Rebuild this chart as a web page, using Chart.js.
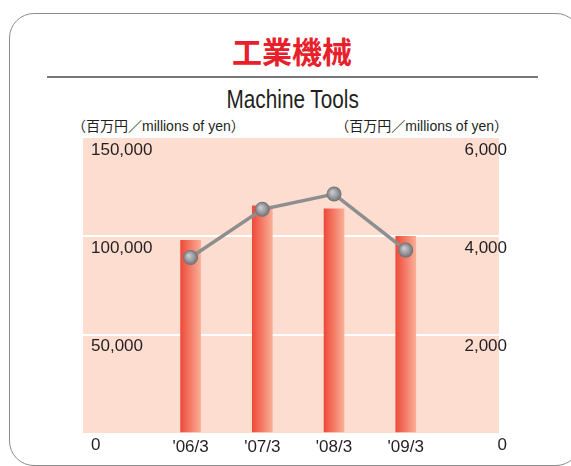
<!DOCTYPE html>
<html><head><meta charset="utf-8">
<script src="https://cdn.jsdelivr.net/npm/chart.js@4/dist/chart.umd.min.js"></script>
<style>
html,body{margin:0;padding:0;background:#fff;width:571px;height:466px;overflow:hidden;}
#wrap{position:relative;width:571px;height:466px;overflow:hidden;}
#frame{position:absolute;left:9px;top:13px;width:572px;height:453px;border:1px solid #8c8c8c;border-radius:25px;box-sizing:border-box;}
.t{position:absolute;white-space:nowrap;}
#title{left:0;width:584px;text-align:center;top:33px;height:34px;line-height:34px;font-weight:bold;font-size:30px;font-family:"Noto Sans CJK JP",sans-serif;color:#e8202b;}
#rule{position:absolute;left:47px;top:76px;width:491px;height:2px;background:#77787c;}
#sub{left:0;width:585px;text-align:center;top:85px;height:28px;line-height:28px;font-size:25px;font-family:"Liberation Sans",Arial,sans-serif;color:#231f20;}
#sub span{display:inline-block;transform:scaleX(0.83);transform-origin:50% 50%;}
.unit{top:118px;height:16px;line-height:16px;font-size:14px;font-family:"Liberation Sans","Noto Sans CJK JP",sans-serif;color:#231f20;}
#uL{left:72px;}
#uR{right:63px;}
canvas{position:absolute;left:0;top:0;}
</style></head>
<body><div id="wrap">
<div id="frame"></div>
<div class="t" id="title">工業機械</div>
<div id="rule"></div>
<div class="t" id="sub"><span>Machine Tools</span></div>
<div class="t unit" id="uL"></div>
<div class="t unit" id="uR"></div>
<canvas id="c" width="571" height="466"></canvas>
</div>
<script>
const categories = ["'06/3", "'07/3", "'08/3", "'09/3"];
const salesValues = [98000, 115500, 114000, 100000];      // bars, left axis
const profitValues = [3570, 4550, 4860, 3720];            // line, right axis
const leftTicks = [0, 50000, 100000, 150000];
const rightTicks = [0, 2000, 4000, 6000];
const unitLabel = "（百万円／millions of yen）";

document.getElementById('uL').textContent = unitLabel;
document.getElementById('uR').textContent = unitLabel;

const fmt = v => Number(v).toLocaleString('en-US');
const tickFont = {family: '"Liberation Sans", Arial, sans-serif', size: 17};

const bgPlugin = {
  id: 'bg',
  beforeDraw(chart) {
    const {ctx, chartArea: a} = chart;
    ctx.save();
    ctx.fillStyle = '#fcddd0';
    ctx.fillRect(a.left, a.top, a.right - a.left, a.bottom - a.top);
    ctx.restore();
  }
};

function barFill(c) {
  const chart = c.chart;
  if (!chart.chartArea || c.type !== 'data') return '#f27a62';
  const x = chart.scales.x.getPixelForValue(c.dataIndex);
  const g = chart.ctx.createLinearGradient(x - 10, 0, x + 10, 0);
  g.addColorStop(0, '#ee4a39');
  g.addColorStop(1, '#f9ae97');
  return g;
}
function pointFill(c) {
  const chart = c.chart;
  if (!chart.chartArea || c.type !== 'data') return '#96989b';
  const x = chart.scales.x.getPixelForValue(c.dataIndex);
  const y = chart.scales.y2.getPixelForValue(profitValues[c.dataIndex]);
  const g = chart.ctx.createRadialGradient(x - 2, y - 2, 0.5, x, y, 7.5);
  g.addColorStop(0, '#c9cbcd');
  g.addColorStop(0.55, '#9a9c9f');
  g.addColorStop(1, '#6c6e72');
  return g;
}

new Chart(document.getElementById('c'), {
  type: 'bar',
  data: {
    datasets: [
      {
        type: 'line',
        data: profitValues.map((v, i) => ({x: i, y: v})),
        yAxisID: 'y2',
        borderColor: '#8d8e90',
        borderWidth: 3.5,
        pointRadius: 7.5,
        pointBorderWidth: 0,
        pointBackgroundColor: pointFill,
        order: 0
      },
      {
        type: 'bar',
        data: salesValues.map((v, i) => ({x: i, y: v})),
        yAxisID: 'y',
        backgroundColor: barFill,
        barThickness: 20,
        borderWidth: 0,
        order: 1
      }
    ]
  },
  options: {
    responsive: false,
    animation: false,
    devicePixelRatio: 1,
    layout: {padding: {left: 83, right: 72, top: 138, bottom: 0}},
    plugins: {legend: {display: false}, tooltip: {enabled: false}},
    scales: {
      x: {
        type: 'linear',
        offset: false,
        min: -1.5,
        max: 4.3,
        afterBuildTicks: s => { s.ticks = categories.map((c, i) => ({value: i})); },
        afterFit: s => { s.height = 33; },
        grid: {display: false, drawTicks: false, offset: false},
        border: {display: false},
        ticks: {
          font: tickFont, color: '#231f20', padding: 4, maxRotation: 0, autoSkip: false,
          callback: v => categories[v]
        }
      },
      y: {
        position: 'left',
        min: 0, max: 150000,
        afterBuildTicks: s => { s.ticks = leftTicks.map(v => ({value: v})); },
        afterFit: s => { s.width = 0; },
        grid: {
          drawTicks: false,
          lineWidth: 2,
          color: c => (c.tick && (c.tick.value === 0 || c.tick.value === 150000)) ? 'rgba(0,0,0,0)' : '#ffffff'
        },
        border: {display: false},
        ticks: {mirror: true, padding: 8, labelOffset: 12, font: tickFont, color: '#231f20', callback: v => fmt(v)}
      },
      y2: {
        position: 'right',
        min: 0, max: 6000,
        afterBuildTicks: s => { s.ticks = rightTicks.map(v => ({value: v})); },
        afterFit: s => { s.width = 0; },
        grid: {display: false, drawTicks: false},
        border: {display: false},
        ticks: {mirror: true, padding: 8, labelOffset: 12, font: tickFont, color: '#231f20', callback: v => fmt(v)}
      }
    }
  },
  plugins: [bgPlugin]
});
</script>
</body></html>
